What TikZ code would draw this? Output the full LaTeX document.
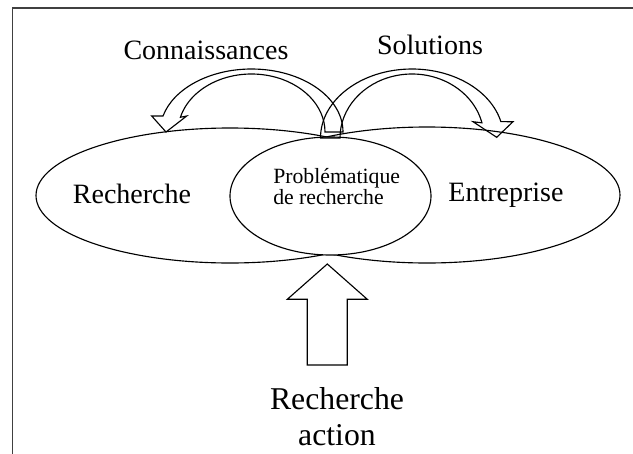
\documentclass[tikz,border=0pt]{standalone}
\usepackage{fontspec}
\setmainfont{Liberation Serif}
\usetikzlibrary{calc}

\begin{document}
\begin{tikzpicture}[x=0.75pt,y=-0.75pt,
  outline/.style={draw=black,line width=0.85pt,line join=miter},
  frame/.style={draw=black!75,line width=1.1pt},
  biglabel/.style={inner sep=0pt,anchor=base,font=\fontsize{21}{25}\selectfont},
  smalllabel/.style={inner sep=0pt,anchor=base west,font=\fontsize{16.3}{20}\selectfont},
  actionlabel/.style={inner sep=0pt,anchor=base,font=\fontsize{23.8}{27}\selectfont}]
\useasboundingbox (0,0) rectangle (633,454);

% open frame: top and left edges only
\coordinate (fa) at (12.5,454);
\coordinate (fb) at (12.5,8);
\coordinate (fc) at (633,8);
\draw[frame] (fa) -- (fb) -- (fc);

% centres of the three ellipses
\coordinate (cR) at (230,195.5);
\coordinate (cE) at (427,195);
\coordinate (cP) at (330.5,196);

\draw[outline] (cR) ellipse [x radius=194, y radius=67.5];
\draw[outline] (cE) ellipse [x radius=193, y radius=68];
\draw[outline,fill=white] (cP) ellipse [x radius=100.5, y radius=59];

% curved hollow arrow towards Recherche
\coordinate (cK) at (251.5,132);
\draw[outline]
  ($(cK)+(0:91.5 and 63)$) arc[start angle=0,end angle=-165.3,x radius=91.5,y radius=63]
  -- (151.7,116) coordinate (kA) -- (166,132) coordinate (kTip) -- (186.7,116) coordinate (kB)
  -- ($(cK)+(-165.3:73.5 and 58)$) arc[start angle=-165.3,end angle=0,x radius=73.5,y radius=58]
  -- cycle;

% curved hollow arrow towards Entreprise
\coordinate (cS) at (412,138);
\draw[outline]
  ($(cS)+(180:91.5 and 69)$) arc[start angle=180,end angle=346.3,x radius=91.5,y radius=69]
  -- (513,121.7) coordinate (sA) -- (496.7,137.3) coordinate (sTip) -- (473,121.7) coordinate (sB)
  -- ($(cS)+(346.3:72 and 64)$) arc[start angle=346.3,end angle=180,x radius=72,y radius=64]
  -- cycle;

% straight hollow arrow pointing up
\coordinate (uTip) at (327.3,264);
\draw[outline] (307.3,365) -- (307.3,299.3) -- (287.3,299.3) -- (uTip)
  -- (367.3,299.3) -- (347.3,299.3) -- (347.3,365) -- cycle;

% labels
\node[biglabel] (tK) at (206,59) {Connaissances};
\node[biglabel] (tS) at (430,54) {Solutions};
\node[biglabel] (tR) at (132,203) {Recherche};
\node[biglabel] (tE) at (506,201) {Entreprise};
\node[smalllabel] (tP1) at (273,183) {Problématique};
\node[smalllabel] (tP2) at (273,204) {de recherche};
\node[actionlabel] (tA1) at (337,409) {Recherche};
\node[actionlabel] (tA2) at (337,445) {action};
\end{tikzpicture}
\end{document}
